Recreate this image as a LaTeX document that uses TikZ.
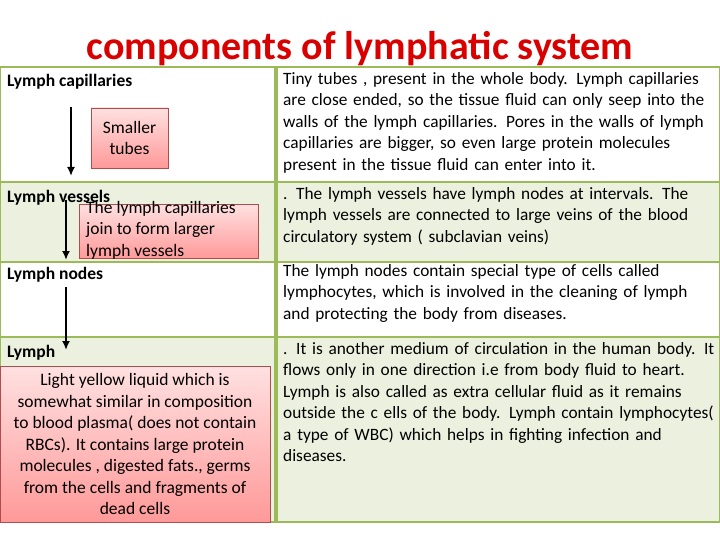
\documentclass[tikz,border=0pt]{standalone}
\usepackage{fontspec}
\setmainfont{Carlito}
\usetikzlibrary{arrows.meta}
\begin{document}
\begin{tikzpicture}[x=1pt,y=-1pt,
 lab/.style={anchor=west,font=\fontsize{17.5}{18}\selectfont\bfseries,inner sep=0},
 desc/.style={anchor=north west,align=left,text width=436pt,font=\fontsize{17.3}{21.5}\selectfont,inner sep=0},
 pink/.style={draw=red!55!black!70,top color=red!12,bottom color=red!40,line width=0.6pt},
 arr/.style={-{Latex[length=9pt,width=8pt]},line width=2.4pt}]
\useasboundingbox (0,0) rectangle (720,540);
\definecolor{bd}{HTML}{9BBB59}\definecolor{lg}{HTML}{EBF1DE}
\node[font=\fontsize{40}{42}\selectfont\bfseries,text=red!85!black] (title) at (360,49) {components of lymphatic system};
\foreach \a/\b/\c in {67/182/white,182/262/lg,262/337/white,337/522/lg}{
 \fill[\c] (0,\a) rectangle (720,\b);
 \draw[bd,line width=1.2pt] (0,\a) rectangle (275,\b);
 \draw[bd,line width=1.2pt] (277,\a) rectangle (720,\b);}
\node[lab] (l1) at (7,82) {Lymph capillaries};
\node[lab] (l2) at (7,198) {Lymph vessels};
\node[lab] (l3) at (7,275) {Lymph nodes};
\node[lab] (l4) at (7,353) {Lymph};
\node[pink,minimum width=77pt,minimum height=60pt,align=center,font=\fontsize{17.5}{21.5}\selectfont] (b1) at (129.5,138) {Smaller\\tubes};
\node[pink,minimum width=179pt,minimum height=54pt,anchor=north west,inner sep=0] (b2) at (79,204) {};
\node[anchor=north west,align=left,inner sep=0,font=\fontsize{17.5}{21.5}\selectfont] (b2t) at (86,201) {The lymph capillaries\\join to form larger\\lymph vessels};
\node[pink,minimum width=270pt,minimum height=156pt,anchor=north west,inner sep=0] (b3) at (0,366) {};
\node[align=center,inner sep=0,font=\fontsize{17.5}{21.5}\selectfont] (b3t) at (135,444) {Light yellow liquid which is\\somewhat similar in composition\\to blood plasma( does not contain\\RBCs). It contains large protein\\molecules , digested fats., germs\\from the cells and fragments of\\dead cells};
\coordinate (a1s) at (71,107); \coordinate (a1e) at (71,176);
\coordinate (a2s) at (66,200); \coordinate (a2e) at (66,260);
\coordinate (a3s) at (66,287); \coordinate (a3e) at (66,350);
\draw[arr] (a1s) -- (a1e); \draw[arr] (a2s) -- (a2e); \draw[arr] (a3s) -- (a3e);
\node[desc] (d1) at (283,72) {Tiny tubes , present in the whole body. Lymph capillaries\\are close ended, so the tissue fluid can only seep into the\\walls of the lymph capillaries. Pores in the walls of lymph\\capillaries are bigger, so even large protein molecules\\present in the tissue fluid can enter into it.};
\node[desc] (d2) at (283,187) {. The lymph vessels have lymph nodes at intervals. The\\lymph vessels are connected to large veins of the blood\\circulatory system ( subclavian veins)};
\node[desc] (d3) at (283,264) {The lymph nodes contain special type of cells called\\lymphocytes, which is involved in the cleaning of lymph\\and protecting the body from diseases.};
\node[desc] (d4) at (283,342) {. It is another medium of circulation in the human body. It\\flows only in one direction i.e from body fluid to heart.\\Lymph is also called as extra cellular fluid as it remains\\outside the c ells of the body. Lymph contain lymphocytes(\\a type of WBC) which helps in fighting infection and\\diseases.};
\end{tikzpicture}
\end{document}
